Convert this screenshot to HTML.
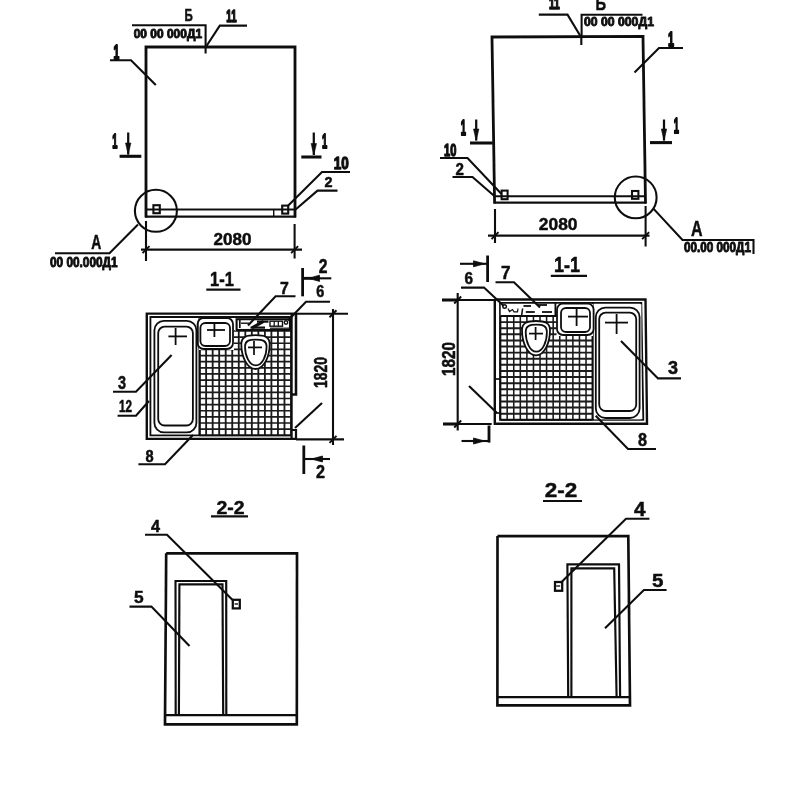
<!DOCTYPE html>
<html lang="ru">
<head>
<meta charset="utf-8">
<title>Drawing</title>
<style>
html,body{margin:0;padding:0;background:#fff;}
body{width:800px;height:800px;overflow:hidden;}
svg{display:block;}
svg *{vector-effect:none;}
svg text{font-family:"Liberation Sans",sans-serif;}
</style>
</head>
<body>
<svg width="800" height="800" viewBox="0 0 800 800">
<rect x="0" y="0" width="800" height="800" fill="#fff" stroke="none"/>
<defs><filter id="soft" x="0" y="0" width="800" height="800" filterUnits="userSpaceOnUse"><feGaussianBlur stdDeviation="0.45"/></filter></defs>
<g fill="none" stroke="#111" stroke-linecap="butt" stroke-linejoin="miter" filter="url(#soft)">
<path d="M146 217.6 L146 47 L295 47 L295 217.6" stroke-width="2.8"/>
<line x1="145" y1="216.7" x2="296" y2="216.7" stroke-width="2.17"/>
<line x1="146" y1="209.5" x2="295" y2="209.5" stroke-width="2.03"/>
<rect x="153.4" y="205.2" width="6.4" height="8.0" rx="0" stroke-width="2.1"/>
<rect x="282.2" y="205.6" width="6.0" height="8.0" rx="0" stroke-width="2.1"/>
<line x1="273.7" y1="210" x2="273.7" y2="217" stroke-width="1.4"/>
<circle cx="155.9" cy="210.8" r="21.0" stroke-width="2.1"/>
<line x1="146" y1="221" x2="146" y2="261" stroke-width="2.1"/>
<line x1="294.6" y1="224" x2="294.6" y2="258.5" stroke-width="2.1"/>
<line x1="141" y1="249.6" x2="302" y2="249.6" stroke-width="2.1"/>
<line x1="142.5" y1="253.1" x2="149.5" y2="246.1" stroke-width="1.96"/>
<line x1="291.1" y1="253.1" x2="298.1" y2="246.1" stroke-width="1.96"/>
<text fill="#111" stroke="#111" stroke-width="6.04" stroke-linejoin="round" x="0" y="0" font-size="200" font-weight="bold" transform="translate(213.5 245.04) scale(0.0854 0.0803)">2080</text>
<text fill="#111" stroke="#111" stroke-width="6.92" stroke-linejoin="round" x="0" y="0" font-size="200" font-weight="bold" transform="translate(184.4 21.0) scale(0.0576 0.087)">Б</text>
<path d="M132 25.2 L205.6 25.2 L205.6 53.5" stroke-width="2.1"/>
<text fill="#111" stroke="#111" stroke-width="14.7" stroke-linejoin="round" x="0" y="0" font-size="200" font-weight="bold" transform="translate(133.7 37.57) scale(0.0598 0.0627)">00 00 000Д1</text>
<text fill="#111" stroke="#111" stroke-width="19.32" stroke-linejoin="round" x="0" y="0" font-size="200" font-weight="bold" transform="translate(226.3 22.4) scale(0.0483 0.0862)">11</text>
<path d="M247 25.6 L219.8 25.6 L206.5 46" stroke-width="2.1"/>
<text fill="#111" stroke="#111" stroke-width="18.57" stroke-linejoin="round" x="0" y="0" font-size="200" font-weight="bold" transform="translate(113.4 58.6) scale(0.0523 0.0986)">1</text>
<path d="M110 60.2 L131 60.2 L155.8 85" stroke-width="2.1"/>
<text fill="#111" stroke="#111" stroke-width="18.52" stroke-linejoin="round" x="0" y="0" font-size="200" font-weight="bold" transform="translate(112.2 148.0) scale(0.0468 0.1043)">1</text>
<line x1="128.2" y1="132.5" x2="128.2" y2="154.5" stroke-width="2.24"/>
<path d="M125.49999999999999 143.0 L130.89999999999998 143.0 L128.2 154.5 Z" fill="#111" stroke-width="0.6"/>
<line x1="119.6" y1="156.3" x2="141.3" y2="156.3" stroke-width="3.08"/>
<line x1="313.8" y1="132.5" x2="313.8" y2="155" stroke-width="2.24"/>
<path d="M311.1 143.5 L316.5 143.5 L313.8 155 Z" fill="#111" stroke-width="0.6"/>
<line x1="301.3" y1="157" x2="321.5" y2="157" stroke-width="3.08"/>
<text fill="#111" stroke="#111" stroke-width="18.52" stroke-linejoin="round" x="0" y="0" font-size="200" font-weight="bold" transform="translate(322.0 148.0) scale(0.0468 0.1043)">1</text>
<text fill="#111" stroke="#111" stroke-width="16.23" stroke-linejoin="round" x="0" y="0" font-size="200" font-weight="bold" transform="translate(333.8 168.64) scale(0.0676 0.0803)">10</text>
<path d="M350 172 L322 172 L287.5 206.3" stroke-width="2.1"/>
<text fill="#111" stroke="#111" stroke-width="6.73" stroke-linejoin="round" x="0" y="0" font-size="200" font-weight="bold" transform="translate(324.6 187.0) scale(0.0721 0.0764)">2</text>
<path d="M337.5 190.6 L317.5 190.6 L295 210" stroke-width="2.1"/>
<text fill="#111" stroke="#111" stroke-width="5.93" stroke-linejoin="round" x="0" y="0" font-size="200" font-weight="bold" transform="translate(91.3 249.0) scale(0.0694 0.0993)">А</text>
<path d="M55 253.3 L109.5 253.3 L138 224.5" stroke-width="2.1"/>
<text fill="#111" stroke="#111" stroke-width="13.9" stroke-linejoin="round" x="0" y="0" font-size="200" font-weight="bold" transform="translate(50.0 267.06) scale(0.0591 0.0704)">00 00.000Д1</text>
<path d="M494.6 203.4 L492 37 L643 36.3 L645.5 203.4" stroke-width="2.8"/>
<line x1="493.6" y1="202.6" x2="646.5" y2="202.6" stroke-width="2.17"/>
<line x1="494.6" y1="196.3" x2="645.6" y2="196.3" stroke-width="2.03"/>
<rect x="501.6" y="190.6" width="6.0" height="8.6" rx="0" stroke-width="2.1"/>
<rect x="632" y="191" width="6.4" height="7.8" rx="0" stroke-width="2.1"/>
<circle cx="635.7" cy="197.4" r="20.9" stroke-width="2.1"/>
<line x1="495" y1="209" x2="495" y2="243" stroke-width="2.1"/>
<line x1="645.6" y1="206" x2="645.6" y2="246.5" stroke-width="2.1"/>
<line x1="488" y1="235.6" x2="649.5" y2="235.6" stroke-width="2.1"/>
<line x1="491.5" y1="239.1" x2="498.5" y2="232.1" stroke-width="1.96"/>
<line x1="642.1" y1="239.1" x2="649.1" y2="232.1" stroke-width="1.96"/>
<text fill="#111" stroke="#111" stroke-width="5.76" stroke-linejoin="round" x="0" y="0" font-size="200" font-weight="bold" transform="translate(538.8 230.33) scale(0.087 0.0866)">2080</text>
<text fill="#111" stroke="#111" stroke-width="19.02" stroke-linejoin="round" x="0" y="0" font-size="200" font-weight="bold" transform="translate(549.0 8.6) scale(0.0512 0.0855)">11</text>
<path d="M538.8 14.6 L567.5 14.6 L581.3 37.5 L581.3 45" stroke-width="2.1"/>
<text fill="#111" stroke="#111" stroke-width="6.2" stroke-linejoin="round" x="0" y="0" font-size="200" font-weight="bold" transform="translate(595.5 9.8) scale(0.0729 0.0884)">Б</text>
<path d="M581.6 37 L581.6 14.8 L642.5 14.8" stroke-width="2.1"/>
<text fill="#111" stroke="#111" stroke-width="14.61" stroke-linejoin="round" x="0" y="0" font-size="200" font-weight="bold" transform="translate(584.0 26.28) scale(0.0612 0.062)">00 00 000Д1</text>
<text fill="#111" stroke="#111" stroke-width="18.01" stroke-linejoin="round" x="0" y="0" font-size="200" font-weight="bold" transform="translate(668.0 46.0) scale(0.0541 0.1014)">1</text>
<path d="M683 48 L659 48 L634.5 72.5" stroke-width="2.1"/>
<text fill="#111" stroke="#111" stroke-width="18.34" stroke-linejoin="round" x="0" y="0" font-size="200" font-weight="bold" transform="translate(460.8 135.2) scale(0.0468 0.1058)">1</text>
<line x1="476.2" y1="119.5" x2="476.2" y2="140.5" stroke-width="2.24"/>
<path d="M473.5 129.0 L478.9 129.0 L476.2 140.5 Z" fill="#111" stroke-width="0.6"/>
<line x1="470" y1="143" x2="492.8" y2="143" stroke-width="3.08"/>
<line x1="664" y1="119.5" x2="664" y2="140.5" stroke-width="2.24"/>
<path d="M661.3 129.0 L666.7 129.0 L664 140.5 Z" fill="#111" stroke-width="0.6"/>
<line x1="650" y1="142.6" x2="672" y2="142.6" stroke-width="3.08"/>
<text fill="#111" stroke="#111" stroke-width="17.84" stroke-linejoin="round" x="0" y="0" font-size="200" font-weight="bold" transform="translate(673.8 132.6) scale(0.0468 0.1101)">1</text>
<text fill="#111" stroke="#111" stroke-width="17.15" stroke-linejoin="round" x="0" y="0" font-size="200" font-weight="bold" transform="translate(444.0 155.83) scale(0.0554 0.0845)">10</text>
<path d="M440 158 L467.5 158 L501.5 194" stroke-width="2.1"/>
<text fill="#111" stroke="#111" stroke-width="6.22" stroke-linejoin="round" x="0" y="0" font-size="200" font-weight="bold" transform="translate(455.6 174.5) scale(0.0757 0.085)">2</text>
<path d="M452.5 177 L472.5 177 L494.6 196.3" stroke-width="2.1"/>
<text fill="#111" stroke="#111" stroke-width="5.37" stroke-linejoin="round" x="0" y="0" font-size="200" font-weight="bold" transform="translate(691.0 236.0) scale(0.0799 0.1065)">А</text>
<path d="M653.4 208.6 L682.5 240 L753.5 240 L753.5 254" stroke-width="2.1"/>
<text fill="#111" stroke="#111" stroke-width="14.1" stroke-linejoin="round" x="0" y="0" font-size="200" font-weight="bold" transform="translate(684.0 252.26) scale(0.0586 0.069)">00.00 000Д1</text>
<text fill="#111" stroke="#111" stroke-width="5.53" stroke-linejoin="round" x="0" y="0" font-size="200" font-weight="bold" transform="translate(210.0 286.2) scale(0.0824 0.0986)">1-1</text>
<line x1="206.3" y1="289.6" x2="240.5" y2="289.6" stroke-width="2.24"/>
<path d="M199.6 331V435.3M206.13 331V435.3M212.66 331V435.3M219.19 331V435.3M225.71 331V435.3M232.24 331V435.3M238.77 331V435.3M245.3 331V435.3M251.83 331V435.3M258.36 331V435.3M264.89 331V435.3M271.41 331V435.3M277.94 331V435.3M284.47 331V435.3M291.0 331V435.3" stroke-width="1.82" stroke="#1a1a1a"/>
<path d="M199.6 331.0H291M199.6 337.14H291M199.6 343.27H291M199.6 349.41H291M199.6 355.54H291M199.6 361.68H291M199.6 367.81H291M199.6 373.95H291M199.6 380.08H291M199.6 386.22H291M199.6 392.35H291M199.6 398.49H291M199.6 404.62H291M199.6 410.76H291M199.6 416.89H291M199.6 423.03H291M199.6 429.16H291M199.6 435.3H291" stroke-width="1.68" stroke="#1a1a1a"/>
<path d="M296 313.6 L146.8 313.6 L146.8 438.9 L296 438.9" stroke-width="2.38"/>
<path d="M291 317 L150.4 317 L150.4 435.3 L291 435.3" stroke-width="1.82"/>
<path d="M296 313.6 L296 394.5 L291.6 394.5" stroke-width="2.52"/>
<line x1="291.6" y1="313.6" x2="291.6" y2="438.9" stroke-width="2.24"/>
<path d="M291.6 430 L296 430 L296 438.9" stroke-width="2.24"/>
<rect x="152" y="319" width="46.4" height="115" rx="0" fill="#fff" stroke="none"/>
<rect x="154.4" y="320.8" width="42.0" height="111.6" rx="9.5" stroke-width="1.82"/>
<rect x="158.2" y="326.6" width="34.7" height="98.9" rx="6.5" stroke-width="1.82"/>
<line x1="168.4" y1="336.4" x2="187" y2="336.4" stroke-width="1.82"/>
<line x1="175.6" y1="328" x2="175.6" y2="345" stroke-width="1.82"/>
<line x1="199.6" y1="317" x2="199.6" y2="435.3" stroke-width="2.1"/>
<rect x="199" y="318.5" width="35" height="31.5" rx="0" fill="#fff" stroke="none"/>
<rect x="197.6" y="318" width="35.4" height="31" rx="6" stroke-width="1.82"/>
<rect x="200.4" y="323" width="29.6" height="23" rx="5" stroke-width="1.82"/>
<line x1="207" y1="330" x2="225" y2="330" stroke-width="1.82"/>
<line x1="214.4" y1="323" x2="214.4" y2="337" stroke-width="1.82"/>
<rect x="235" y="318.5" width="55.3" height="12.5" rx="0" fill="#fff" stroke="none"/>
<rect x="236.6" y="319.2" width="53.4" height="10.8" rx="0" stroke-width="2.1"/>
<line x1="239.8" y1="319.2" x2="239.8" y2="328" stroke-width="1.68"/>
<line x1="241" y1="323.2" x2="249" y2="323.2" stroke-width="1.4"/>
<path d="M250.5 327.6 L265 327.6" stroke-width="2.24"/>
<path d="M257 321.6 L268.5 321.6" stroke-width="2.24"/>
<path d="M263.5 321.4 L252 327.8" stroke-width="3.08"/>
<rect x="270" y="321.2" width="12.5" height="5.0" rx="0" stroke-width="1.4"/>
<line x1="274.2" y1="321.2" x2="274.2" y2="326.2" stroke-width="1.26"/>
<line x1="278.3" y1="321.2" x2="278.3" y2="326.2" stroke-width="1.26"/>
<line x1="270" y1="328.2" x2="289" y2="328.2" stroke-width="1.26"/>
<circle cx="286" cy="322.5" r="1.7" stroke-width="1.4"/>
<path d="M255.5 335.2 C264.3 335.2 269.7 336.55 269.7 344.33 C269.7 356.16 264.1 369 255.5 369 C246.9 369 241.3 356.16 241.3 344.33 C241.3 336.55 246.7 335.2 255.5 335.2 Z" stroke-width="1.82" fill="#fff"/>
<path d="M255.8 339.6 C262.5 339.6 266.6 340.63 266.6 346.57 C266.6 355.6 262.4 365.4 255.8 365.4 C249.2 365.4 245.0 355.6 245.0 346.57 C245.0 340.63 249.1 339.6 255.8 339.6 Z" stroke-width="1.75" fill="#fff"/>
<line x1="248" y1="347.4" x2="262" y2="347.4" stroke-width="1.75"/>
<line x1="254" y1="341" x2="254" y2="355" stroke-width="1.75"/>
<line x1="296" y1="313.8" x2="348" y2="313.8" stroke-width="2.1"/>
<line x1="296" y1="439.4" x2="344" y2="439.4" stroke-width="2.1"/>
<line x1="333" y1="309" x2="333" y2="445" stroke-width="2.1"/>
<line x1="329.5" y1="317.3" x2="336.5" y2="310.3" stroke-width="1.96"/>
<line x1="329.5" y1="442.9" x2="336.5" y2="435.9" stroke-width="1.96"/>
<text fill="#111" stroke="#111" stroke-width="6.37" stroke-linejoin="round" x="0" y="0" font-size="200" font-weight="bold" transform="translate(327.4 388) rotate(-90) translate(0.0 -0.17) scale(0.0697 0.0873)">1820</text>
<line x1="322" y1="403" x2="295" y2="428" stroke-width="2.1"/>
<line x1="302.6" y1="268" x2="302.6" y2="296.3" stroke-width="2.8"/>
<line x1="302.6" y1="278.3" x2="331.3" y2="278.3" stroke-width="2.1"/>
<path d="M308.5 278.3 L319.5 275.2 L319.5 281.4 Z" fill="#111" stroke-width="0.8"/>
<line x1="302.6" y1="278.3" x2="312" y2="278.3" stroke-width="2.8"/>
<text fill="#111" stroke="#111" stroke-width="5.7" stroke-linejoin="round" x="0" y="0" font-size="200" font-weight="bold" transform="translate(318.8 273.0) scale(0.0784 0.0971)">2</text>
<text fill="#111" stroke="#111" stroke-width="6.59" stroke-linejoin="round" x="0" y="0" font-size="200" font-weight="bold" transform="translate(316.3 297.44) scale(0.0721 0.0796)">6</text>
<path d="M330 301.8 L306 301.8 L288 320.5" stroke-width="2.1"/>
<text fill="#111" stroke="#111" stroke-width="6.23" stroke-linejoin="round" x="0" y="0" font-size="200" font-weight="bold" transform="translate(280.0 293.8) scale(0.0793 0.0812)">7</text>
<path d="M295.5 296.2 L275.6 296.2 L248 325.5" stroke-width="2.1"/>
<text fill="#111" stroke="#111" stroke-width="6.19" stroke-linejoin="round" x="0" y="0" font-size="200" font-weight="bold" transform="translate(118.0 388.82) scale(0.0721 0.0894)">3</text>
<path d="M113 391.7 L136 391.7 L171.6 355" stroke-width="2.1"/>
<text fill="#111" stroke="#111" stroke-width="7.29" stroke-linejoin="round" x="0" y="0" font-size="200" font-weight="bold" transform="translate(119.0 412.2) scale(0.0586 0.0786)">12</text>
<path d="M117.6 415.7 L136 415.7 L149 401" stroke-width="2.1"/>
<text fill="#111" stroke="#111" stroke-width="6.53" stroke-linejoin="round" x="0" y="0" font-size="200" font-weight="bold" transform="translate(145.5 461.64) scale(0.073 0.0803)">8</text>
<path d="M138.4 464.3 L165 464.3 L193 435" stroke-width="2.1"/>
<line x1="303.8" y1="445.5" x2="303.8" y2="474" stroke-width="2.8"/>
<line x1="303.8" y1="459" x2="330" y2="459" stroke-width="2.1"/>
<path d="M311.5 459 L322.5 456 L322.5 462 Z" fill="#111" stroke-width="0.8"/>
<text fill="#111" stroke="#111" stroke-width="5.75" stroke-linejoin="round" x="0" y="0" font-size="200" font-weight="bold" transform="translate(316.0 478.0) scale(0.0811 0.0929)">2</text>
<text fill="#111" stroke="#111" stroke-width="5.03" stroke-linejoin="round" x="0" y="0" font-size="200" font-weight="bold" transform="translate(554.0 272.0) scale(0.09 0.1087)">1-1</text>
<line x1="550.8" y1="275.8" x2="587" y2="275.8" stroke-width="2.24"/>
<path d="M500.6 316V419.8M507.17 316V419.8M513.74 316V419.8M520.31 316V419.8M526.89 316V419.8M533.46 316V419.8M540.03 316V419.8M546.6 316V419.8M553.17 316V419.8M559.74 316V419.8M566.31 316V419.8M572.89 316V419.8M579.46 316V419.8M586.03 316V419.8M592.6 316V419.8" stroke-width="1.54" stroke="#1a1a1a"/>
<path d="M500.6 316.0H592.6M500.6 322.11H592.6M500.6 328.21H592.6M500.6 334.32H592.6M500.6 340.42H592.6M500.6 346.53H592.6M500.6 352.64H592.6M500.6 358.74H592.6M500.6 364.85H592.6M500.6 370.95H592.6M500.6 377.06H592.6M500.6 383.16H592.6M500.6 389.27H592.6M500.6 395.38H592.6M500.6 401.48H592.6M500.6 407.59H592.6M500.6 413.69H592.6M500.6 419.8H592.6" stroke-width="1.96" stroke="#1a1a1a"/>
<path d="M494.8 299.5 L645.5 299.4 L647 423.7 L494.8 423.7 L494.8 299.5" stroke-width="2.38"/>
<path d="M500 302.9 L641.3 302.9 L643.3 419.8 L500 419.8 L500 302.9" stroke-width="1.82"/>
<line x1="494.8" y1="379" x2="500" y2="379" stroke-width="1.68"/>
<line x1="494.8" y1="413" x2="500" y2="413" stroke-width="1.68"/>
<rect x="593.8" y="304.2" width="47.6" height="115.2" rx="0" fill="#fff" stroke="none"/>
<line x1="592.6" y1="302.9" x2="592.6" y2="419.8" stroke-width="1.96"/>
<rect x="595.8" y="307.6" width="43.8" height="110.4" rx="9.5" stroke-width="1.82"/>
<rect x="599.2" y="312.6" width="37.0" height="98.4" rx="6.5" stroke-width="1.82"/>
<line x1="605" y1="322.6" x2="628" y2="322.6" stroke-width="1.82"/>
<line x1="616.6" y1="314" x2="616.6" y2="334" stroke-width="1.82"/>
<rect x="556.5" y="304" width="36.5" height="32" rx="0" fill="#fff" stroke="none"/>
<rect x="557" y="303.6" width="36.6" height="31.4" rx="6" stroke-width="1.82"/>
<rect x="561" y="308" width="29" height="24" rx="5" stroke-width="1.82"/>
<line x1="568" y1="316.6" x2="588" y2="316.6" stroke-width="1.82"/>
<line x1="576.6" y1="309" x2="576.6" y2="326" stroke-width="1.82"/>
<rect x="500.8" y="304" width="55.2" height="11.6" rx="0" fill="#fff" stroke="none"/>
<path d="M500.6 316 L555.4 316 L555.4 303" stroke-width="1.82"/>
<path d="M522.6 308.5 L521.6 315.6" stroke-width="1.54"/>
<line x1="523.5" y1="306" x2="531" y2="306" stroke-width="1.82"/>
<line x1="525.8" y1="312" x2="534.8" y2="312" stroke-width="1.82"/>
<line x1="537.8" y1="305" x2="547" y2="305" stroke-width="1.82"/>
<line x1="542" y1="312" x2="552" y2="312" stroke-width="1.82"/>
<circle cx="504.6" cy="306.5" r="1.8" stroke-width="1.4"/>
<path d="M508 308.5 L509.5 311.6 L512.5 309.5 L514 311.8 L517.5 311.8 L518 308.5" stroke-width="1.2"/>
<path d="M536 321 C544.68 321 550 322.38 550 330.29 C550 342.33 544.6 355.4 536 355.4 C527.4 355.4 522 342.33 522 330.29 C522 322.38 527.32 321 536 321 Z" stroke-width="1.82" fill="#fff"/>
<path d="M536.3 324.6 C542.87 324.6 546.9 325.68 546.9 331.89 C546.9 341.34 542.9 351.6 536.3 351.6 C529.7 351.6 525.7 341.34 525.7 331.89 C525.7 325.68 529.73 324.6 536.3 324.6 Z" stroke-width="1.75" fill="#fff"/>
<line x1="529" y1="333.6" x2="543" y2="333.6" stroke-width="1.75"/>
<line x1="535.6" y1="327" x2="535.6" y2="340" stroke-width="1.75"/>
<line x1="442" y1="300" x2="495" y2="300" stroke-width="2.1"/>
<line x1="442" y1="300" x2="458" y2="300" stroke-width="3.08"/>
<line x1="443" y1="424" x2="491.7" y2="424" stroke-width="2.1"/>
<line x1="443" y1="424" x2="458" y2="424" stroke-width="3.08"/>
<line x1="457.7" y1="293" x2="457.7" y2="430.5" stroke-width="2.1"/>
<line x1="454.2" y1="303.5" x2="461.2" y2="296.5" stroke-width="1.96"/>
<line x1="454.2" y1="427.5" x2="461.2" y2="420.5" stroke-width="1.96"/>
<text fill="#111" stroke="#111" stroke-width="5.95" stroke-linejoin="round" x="0" y="0" font-size="200" font-weight="bold" transform="translate(455 376) rotate(-90) translate(0.0 -0.18) scale(0.0764 0.0915)">1820</text>
<line x1="469" y1="386" x2="497" y2="413" stroke-width="2.1"/>
<line x1="487.6" y1="255.5" x2="487.6" y2="282" stroke-width="2.8"/>
<line x1="460" y1="263.8" x2="487.6" y2="263.8" stroke-width="2.1"/>
<path d="M484.5 263.8 L473.5 260.8 L473.5 266.8 Z" fill="#111" stroke-width="0.8"/>
<text fill="#111" stroke="#111" stroke-width="6.21" stroke-linejoin="round" x="0" y="0" font-size="200" font-weight="bold" transform="translate(464.5 284.43) scale(0.0766 0.0845)">6</text>
<path d="M461 287.6 L484 287.6 L503.8 306" stroke-width="2.1"/>
<text fill="#111" stroke="#111" stroke-width="5.65" stroke-linejoin="round" x="0" y="0" font-size="200" font-weight="bold" transform="translate(501.0 279.0) scale(0.0856 0.0913)">7</text>
<path d="M495.5 282.2 L514 282.2 L540 307.5" stroke-width="2.1"/>
<text fill="#111" stroke="#111" stroke-width="5.59" stroke-linejoin="round" x="0" y="0" font-size="200" font-weight="bold" transform="translate(668.0 374.02) scale(0.0901 0.0887)">3</text>
<path d="M681 378.4 L658 378.4 L621 341" stroke-width="2.1"/>
<text fill="#111" stroke="#111" stroke-width="5.79" stroke-linejoin="round" x="0" y="0" font-size="200" font-weight="bold" transform="translate(638.0 446.42) scale(0.0811 0.0915)">8</text>
<path d="M656 449 L628 449 L595.7 415.7" stroke-width="2.1"/>
<line x1="489" y1="425.5" x2="489" y2="442.6" stroke-width="2.8"/>
<line x1="461.5" y1="441" x2="489" y2="441" stroke-width="2.1"/>
<path d="M484.5 441 L473.5 438 L473.5 444 Z" fill="#111" stroke-width="0.8"/>
<text fill="#111" stroke="#111" stroke-width="5.34" stroke-linejoin="round" x="0" y="0" font-size="200" font-weight="bold" transform="translate(216.5 513.6) scale(0.0972 0.09)">2-2</text>
<line x1="211" y1="516.4" x2="248" y2="516.4" stroke-width="2.24"/>
<path d="M166.2 553.3 L297 553.3 L296.8 724.4 L165 724.4 L166.2 553.3" stroke-width="2.66"/>
<line x1="165" y1="715.1" x2="296.8" y2="715.1" stroke-width="2.24"/>
<path d="M175.7 715.1 L175.5 581 L226.2 581 L226.3 715.1" stroke-width="2.17"/>
<path d="M178.9 715.1 L179.4 584.4 L222.5 584.4 L223.2 715.1" stroke-width="2.17"/>
<rect x="232.8" y="599.8" width="7.0" height="8.6" rx="0" stroke-width="2.24"/>
<line x1="234.6" y1="604" x2="238" y2="604" stroke-width="1.4"/>
<text fill="#111" stroke="#111" stroke-width="6.28" stroke-linejoin="round" x="0" y="0" font-size="200" font-weight="bold" transform="translate(151.0 531.8) scale(0.0811 0.0783)">4</text>
<path d="M145 534.8 L167 534.8 L232.6 600" stroke-width="2.1"/>
<text fill="#111" stroke="#111" stroke-width="5.81" stroke-linejoin="round" x="0" y="0" font-size="200" font-weight="bold" transform="translate(134.0 603.43) scale(0.0865 0.0857)">5</text>
<path d="M129.5 606.6 L151.4 606.6 L189.5 646" stroke-width="2.1"/>
<text fill="#111" stroke="#111" stroke-width="4.71" stroke-linejoin="round" x="0" y="0" font-size="200" font-weight="bold" transform="translate(544.7 496.6) scale(0.1125 0.1)">2-2</text>
<line x1="543" y1="501" x2="582" y2="501" stroke-width="2.24"/>
<path d="M497.5 536.1 L628.3 536.1 L630 705.3 L497.4 705.3 L497.5 536.1" stroke-width="2.66"/>
<line x1="497.4" y1="697.1" x2="630" y2="697.1" stroke-width="2.24"/>
<path d="M568.2 697.1 L567.4 564.4 L619 564.4 L620.1 697.1" stroke-width="2.17"/>
<path d="M571.4 697.1 L571.4 568.3 L614.2 568.3 L616.6 697.1" stroke-width="2.17"/>
<rect x="555" y="582" width="7.2" height="8.8" rx="0" stroke-width="2.24"/>
<line x1="556.2" y1="586" x2="560.2" y2="586" stroke-width="1.4"/>
<text fill="#111" stroke="#111" stroke-width="4.95" stroke-linejoin="round" x="0" y="0" font-size="200" font-weight="bold" transform="translate(634.0 515.6) scale(0.1036 0.0986)">4</text>
<path d="M649.4 518.8 L626 518.8 L560.5 583" stroke-width="2.1"/>
<text fill="#111" stroke="#111" stroke-width="5.11" stroke-linejoin="round" x="0" y="0" font-size="200" font-weight="bold" transform="translate(652.0 586.81) scale(0.1027 0.0929)">5</text>
<path d="M666.6 590 L643.9 590 L605 628.3" stroke-width="2.1"/>
</g>
</svg>
</body>
</html>
